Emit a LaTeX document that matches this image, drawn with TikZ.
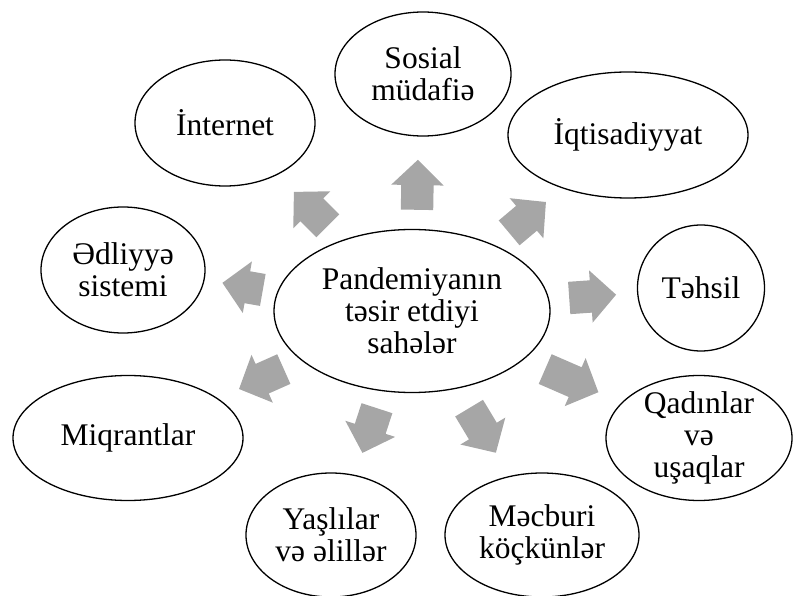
\documentclass[tikz,border=0pt]{standalone}
\usepackage{fontspec}
\setmainfont{Liberation Serif}
\usetikzlibrary{shapes.geometric,shapes.arrows}
\definecolor{arrowgray}{RGB}{166,166,166}
\begin{document}
\begin{tikzpicture}[x=1pt,y=-1pt,
  bubble/.style={draw=black, line width=1.3pt, ellipse, inner sep=0pt},
  lbl/.style={align=center, font=\fontsize{31.5}{32}\selectfont, inner sep=0pt},
  blockarrow/.style={single arrow, fill=arrowgray, draw=none, inner xsep=0pt, inner ysep=16pt,
    single arrow head extend=10pt, single arrow tip angle=92, minimum height=#1, anchor=tail}]
\useasboundingbox (0,0) rectangle (793,596);
% ellipses
\node[bubble, minimum width=180pt, minimum height=126pt] (int) at (225,123) {};
\node[bubble, minimum width=176pt, minimum height=124pt] (sos) at (423,74) {};
\node[bubble, minimum width=240pt, minimum height=126pt] (iqt) at (628,135) {};
\node[bubble, minimum width=164pt, minimum height=126pt] (edl) at (123,270) {};
\node[bubble, minimum width=127pt, minimum height=126pt] (teh) at (701,288) {};
\node[bubble, minimum width=276pt, minimum height=163pt] (cen) at (412,311) {};
\node[bubble, minimum width=186pt, minimum height=125pt] (qad) at (699,438) {};
\node[bubble, minimum width=230pt, minimum height=125pt] (mig) at (128,438) {};
\node[bubble, minimum width=194pt, minimum height=124pt] (mec) at (542,535) {};
\node[bubble, minimum width=170pt, minimum height=124pt] (yas) at (331,535) {};
% texts
\node[lbl] (tint) at (int) {İnternet};
\node[lbl] (tsos) at (sos) {Sosial\\müdafiə};
\node[lbl] (tiqt) at (iqt) {İqtisadiyyat};
\node[lbl] (tedl) at (edl) {Ədliyyə\\sistemi};
\node[lbl] (tteh) at (teh) {Təhsil};
\node[lbl] (tcen) at (cen) {Pandemiyanın\\təsir etdiyi\\sahələr};
\node[lbl] (tqad) at (qad) {Qadınlar\\və\\uşaqlar};
\node[lbl] (tmig) at (mig) {Miqrantlar};
\node[lbl] (tmec) at (mec) {Məcburi\\köçkünlər};
\node[lbl] (tyas) at (yas) {Yaşlılar\\və əlillər};
% block arrows
\node[blockarrow=50pt, rotate=89] (a1) at (417,210) {};
\node[blockarrow=48pt, rotate=40] (a2) at (509,233) {};
\node[blockarrow=47pt, rotate=4] (a3) at (569,298) {};
\node[blockarrow=58pt, rotate=-23.5] (a4) at (545,369) {};
\node[blockarrow=52pt, rotate=-59] (a5) at (469,408) {};
\node[blockarrow=47pt, rotate=-108] (a6) at (377,408) {};
\node[blockarrow=49pt, rotate=-156] (a7) at (284,369) {};
\node[blockarrow=41pt, rotate=170] (a8) at (263,290) {};
\node[blockarrow=48pt, rotate=135] (a9) at (328,226) {};
\end{tikzpicture}
\end{document}
